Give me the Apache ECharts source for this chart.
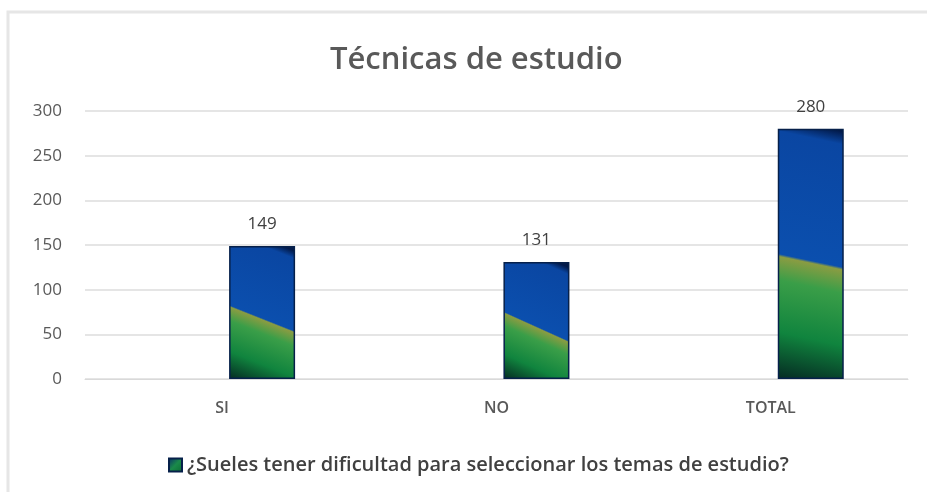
<!DOCTYPE html>
<html><head><meta charset="utf-8">
<script src="https://cdn.jsdelivr.net/npm/echarts@6/dist/echarts.min.js"></script>
<style>html,body{margin:0;padding:0;background:#fff}#c{width:927px;height:492px}</style>
</head><body><div id="c"></div>
<script>
const categories = ['SI', 'NO', 'TOTAL'];
const values = [149, 131, 280];
const seriesName = '¿Sueles tener dificultad para seleccionar los temas de estudio?';
const titleText = 'Técnicas de estudio';
const yTicks = { min: 0, max: 300, interval: 50 };

const chart = echarts.init(document.getElementById('c'), null, { renderer: 'canvas' });
const barFill = new echarts.graphic.LinearGradient(0.8, 0, 0, 1, [
  { offset: 0, color: '#021a4a' },
  { offset: 0.05, color: '#0a46a2' },
  { offset: 0.52, color: '#0b4fae' },
  { offset: 0.53, color: '#8a9c42' },
  { offset: 0.62, color: '#3a9e48' },
  { offset: 0.82, color: '#10843e' },
  { offset: 1, color: '#052a22' }
]);
const iconFill = new echarts.graphic.LinearGradient(0, 0, 1, 1, [
  { offset: 0, color: '#0a2a6a' },
  { offset: 0.5, color: '#1a8a4a' },
  { offset: 1, color: '#0a6a30' }
]);
chart.setOption({
  animation: false,
  title: {
    text: titleText, left: 325, top: 40,
    textStyle: { fontFamily: 'Open Sans', fontSize: 31, fontWeight: 600, color: '#595959' }
  },
  graphic: [{
    type: 'rect', shape: { x: 8, y: 12, width: 940, height: 500 },
    style: { fill: 'none', stroke: '#e6e6e6', lineWidth: 3 }, silent: true
  }],
  legend: {
    data: [{ name: seriesName, itemStyle: { color: iconFill } }],
    top: 450, left: 163, icon: 'rect', itemWidth: 13, itemHeight: 13, itemGap: 4,
    textStyle: { fontFamily: 'Open Sans', fontSize: 20, fontWeight: 600, color: '#404040' }
  },
  grid: { left: 85, right: 19, top: 111, bottom: 113 },
  xAxis: {
    type: 'category', data: categories,
    axisLine: { lineStyle: { color: '#d9d9d9', width: 1 } },
    axisTick: { show: false },
    axisLabel: { margin: 21, fontFamily: 'Open Sans', fontSize: 16, fontWeight: 600, color: '#595959' }
  },
  yAxis: {
    type: 'value', min: yTicks.min, max: yTicks.max, interval: yTicks.interval,
    axisLine: { show: false }, axisTick: { show: false },
    splitLine: { lineStyle: { color: '#e5e5e5', width: 2 } },
    axisLabel: { margin: 23, fontFamily: 'Open Sans', fontSize: 17, color: '#595959' }
  },
  series: [
    { name: 'placeholder', type: 'bar', data: [], barWidth: 66, barGap: '21%' },
    {
      name: seriesName, type: 'bar', data: values, barWidth: 66, barGap: '21%',
      itemStyle: { color: barFill, borderColor: '#06204a', borderWidth: 1.5 },
      label: { show: true, position: 'top', distance: 13, fontFamily: 'Open Sans', fontSize: 17, color: '#404040' }
    }
  ]
});
</script></body></html>
